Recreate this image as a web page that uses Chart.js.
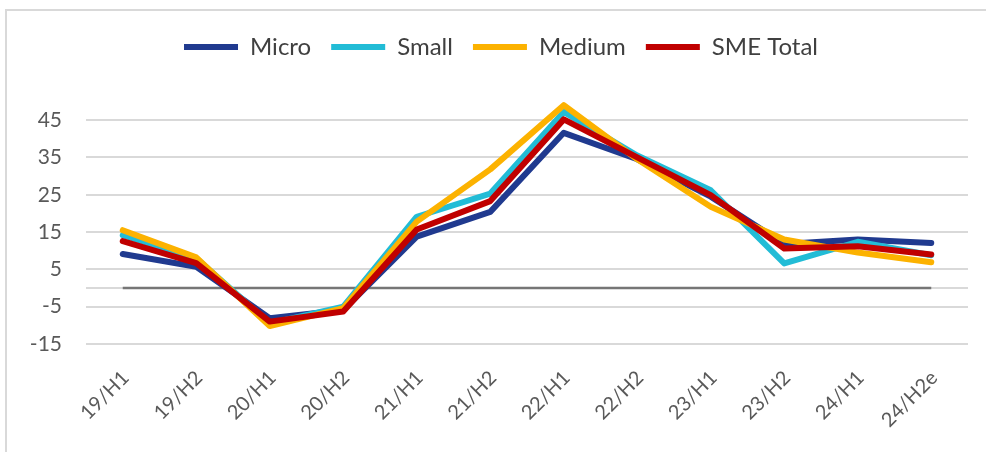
<!DOCTYPE html>
<html>
<head>
<meta charset="utf-8">
<script src="https://cdn.jsdelivr.net/npm/chart.js@4"></script>
<style>
	body { margin: 0; background: #fff; }
	.frame { position: absolute; left: 5px; top: 9px; width: 1100px; height: 600px; border-top: 2px solid #d9d9d9; border-left: 2px solid #d9d9d9; }
	.wrap { position: absolute; left: 0; top: 0; width: 986px; height: 452px; }
</style>
</head>
<body>
<div class="frame"></div>
<div class="wrap"><canvas id="sme-chart"></canvas></div>
<script>
// half-year periods
const periods = ['19/H1', '19/H2', '20/H1', '20/H2', '21/H1', '21/H2', '22/H1', '22/H2', '23/H1', '23/H2', '24/H1', '24/H2e'];

// values
const micro = [9.1, 5.7, -8.1, -5.9, 13.8, 20.4, 41.6, 34.5, 24.5, 11.8, 13.0, 12.1];
const small = [14.2, 8.0, -9.5, -5.0, 19.1, 25.3, 47.2, 35.5, 26.2, 6.6, 12.4, 8.8];
const medium = [15.5, 8.2, -10.2, -5.4, 17.8, 31.8, 49.0, 34.5, 21.8, 13.0, 9.5, 6.9];
const sme_total = [12.6, 6.7, -9.0, -6.3, 15.7, 23.3, 45.2, 35.0, 24.9, 10.6, 11.2, 9.0];

// y axis ticks as in the original (0 has a grid line but no label)
const y_ticks = [-15, -5, 0, 5, 15, 25, 35, 45];

const ctx = document.getElementById('sme-chart').getContext('2d');

//dark line along zero, from first to last category
const zeroLine = {
	id: 'zeroLine',
	beforeDatasetsDraw(chart) {
		const x = chart.scales.x, y = chart.scales.y;
		const c = chart.ctx;
		c.save();
		c.strokeStyle = '#767676';
		c.lineWidth = 2.5;
		c.beginPath();
		c.moveTo(x.getPixelForValue(0), y.getPixelForValue(0));
		c.lineTo(x.getPixelForValue(periods.length - 1), y.getPixelForValue(0));
		c.stroke();
		c.restore();
	}
};

//legend sits a bit right of the page centre in the original
const legendShift = {
	id: 'legendShift',
	afterLayout(chart) {
		chart.legend.left += 14;
		chart.legend.right += 14;
	}
};

function series(label, data, color, order) {
	return {
		label: label,
		data: data,
		borderColor: color,
		backgroundColor: color,
		borderWidth: 6,
		pointRadius: 0,
		tension: 0,
		fill: false,
		borderCapStyle: 'round',
		borderJoinStyle: 'round',
		order: order
	};
}

const chart = new Chart(ctx, {
	type: 'line',
	data: {
		labels: periods,
		datasets: [
			series('Micro', micro, '#203a8f', 4),
			series('Small', small, '#22bcd6', 3),
			series('Medium', medium, '#fcb200', 2),
			series('SME Total', sme_total, '#c00000', 1)
		]
	},
	options: {
		responsive: true,
		maintainAspectRatio: false,
		animation: false,
		layout: { padding: { left: 6, right: 18, top: 15, bottom: 8 } },
		plugins: {
			tooltip: { enabled: false },
			legend: {
				position: 'top',
				labels: {
					usePointStyle: true,
					pointStyle: 'line',
					pointStyleWidth: 54,
					padding: 20,
					color: '#404040',
					font: { family: 'Lato', size: 24 },
					sort: (a, b) => a.datasetIndex - b.datasetIndex
				}
			}
		},
		scales: {
			x: {
				offset: true,
				grid: { display: false },
				border: { display: false },
				ticks: {
					color: '#595959',
					font: { family: 'Lato', size: 20 },
					maxRotation: 45,
					minRotation: 45,
					labelOffset: 3,
					padding: 14,
					autoSkip: false
				},
				afterFit: (s) => { s.height = 100; }
			},
			y: {
				min: -15,
				max: 58.7,
				border: { display: false },
				grid: { color: '#d9d9d9', lineWidth: 2, drawTicks: false },
				afterBuildTicks: (s) => { s.ticks = y_ticks.map(v => ({ value: v })); },
				afterFit: (s) => { s.width = 80; },
				ticks: {
					color: '#595959',
					padding: 24,
					font: { family: 'Lato', size: 21 },
					callback: (v) => v === 0 ? '' : v
				}
			}
		}
	},
	plugins: [zeroLine, legendShift]
});
</script>
</body>
</html>
